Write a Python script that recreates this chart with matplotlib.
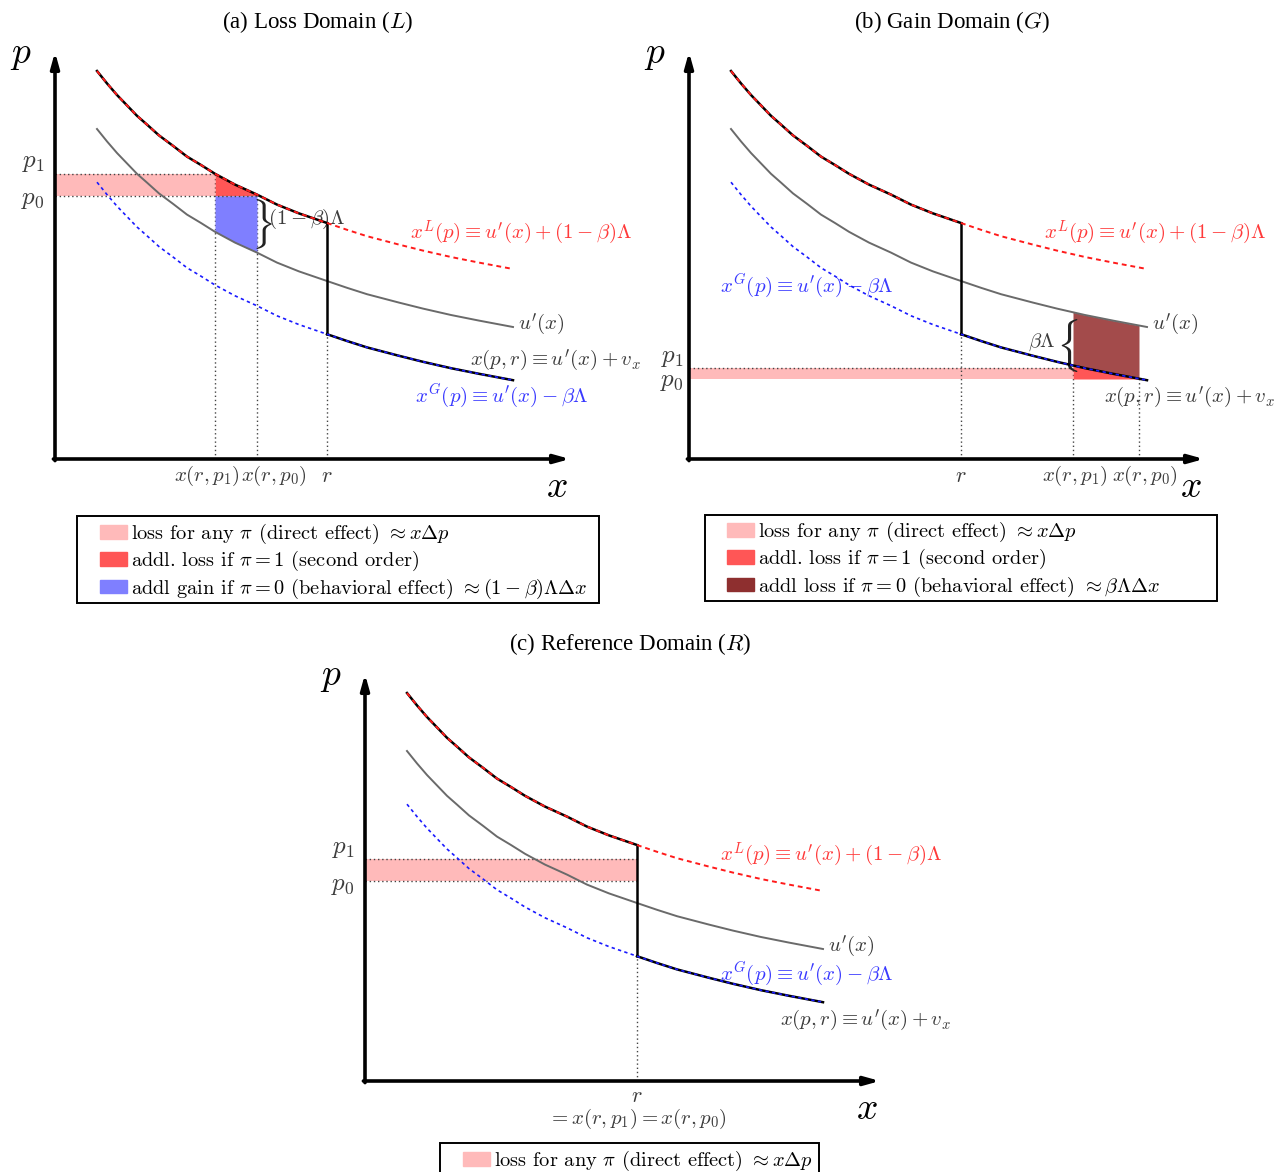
import numpy as np
import matplotlib
matplotlib.use("Agg")
import matplotlib.pyplot as plt
from matplotlib.patches import Patch, Rectangle

plt.rcParams['mathtext.fontset'] = 'cm'
plt.rcParams['font.family'] = 'serif'
plt.rcParams['font.serif'] = ['cmr10', 'DejaVu Serif']
plt.rcParams['axes.formatter.use_mathtext'] = True

# curves (same in all three panels)
ux = [1.05, 1.3, 1.55, 1.8, 2.05, 2.3, 2.6, 2.95, 3.3, 3.65, 4.0, 4.5, 5.05,
      5.55, 6.1, 6.8, 7.3, 7.8, 8.6, 9.2, 9.9, 10.6, 11.45]
u_prime = [8.25, 7.94, 7.65, 7.39, 7.13, 6.91, 6.64, 6.38, 6.11, 5.9, 5.68, 5.41, 5.16,
           4.91, 4.69, 4.45, 4.28, 4.12, 3.91, 3.76, 3.6, 3.46, 3.3]
x_loss = [9.7, 9.39, 9.1, 8.84, 8.58, 8.36, 8.09, 7.83, 7.56, 7.35, 7.13, 6.86, 6.61,
          6.36, 6.14, 5.9, 5.73, 5.57, 5.36, 5.21, 5.05, 4.91, 4.75]
x_gain = [6.92, 6.61, 6.32, 6.06, 5.8, 5.58, 5.31, 5.05, 4.78, 4.57, 4.35, 4.08, 3.83,
          3.58, 3.36, 3.12, 2.95, 2.79, 2.58, 2.43, 2.27, 2.13, 1.97]
r_ref = 6.8

# panel prices / quantities
a_p1, a_p0, a_xp1, a_xp0 = 7.13, 6.58, 4.0, 5.05
b_p1, b_p0, b_xp1, b_xp0 = 2.28, 2.0, 9.6, 11.25
c_p1, c_p0 = 5.55, 5.0

PINK = '#ffbaba'
RED = '#ff5656'
BLUE = '#7f7fff'
BROWN = '#a34b4b'
BROWN_LEG = '#8e2f2f'
TXT_RED = '#ff3a3a'
TXT_BLUE = '#3a3aff'
TXT_GRAY = '#3c3c3c'
FS = 15

W, H = 1276, 1172
fig = plt.figure(figsize=(W / 100, H / 100), dpi=100)

UNIT = 40.0
XL = (-1.5, 14.0)
YL = (-1.5, 10.8)


def make_ax(ox, oy):
    left = (ox + XL[0] * UNIT) / W
    bottom = (H - oy + YL[0] * UNIT) / H
    ax = fig.add_axes([left, bottom, (XL[1] - XL[0]) * UNIT / W, (YL[1] - YL[0]) * UNIT / H])
    ax.set_xlim(*XL)
    ax.set_ylim(*YL)
    ax.axis('off')
    # axes with arrows
    ax.annotate('', xy=(12.875, 0), xytext=(-0.04, 0),
                arrowprops=dict(arrowstyle='-|>,head_length=0.9,head_width=0.25', lw=2.6, color='k',
                                shrinkA=0, shrinkB=0))
    ax.annotate('', xy=(0, 10.175), xytext=(0, -0.04),
                arrowprops=dict(arrowstyle='-|>,head_length=0.9,head_width=0.25', lw=2.6, color='k',
                                shrinkA=0, shrinkB=0))
    ax.text(-0.85, 10.1, '$p$', fontsize=27, ha='center', va='center')
    ax.text(12.55, -0.7, '$x$', fontsize=27, ha='center', va='center')
    return ax


def curves(ax):
    xs = np.array(ux)
    ax.plot(xs, u_prime, color='#6a6a6a', lw=1.4, zorder=3)
    m1 = xs <= r_ref
    m2 = xs >= r_ref
    gl = np.interp(r_ref, ux, x_gain)
    ll = np.interp(r_ref, ux, x_loss)
    ax.plot(xs[m1], np.array(x_loss)[m1], color='k', lw=1.8, zorder=5)
    ax.plot([r_ref, r_ref], [gl, ll], color='k', lw=1.8, zorder=5)
    ax.plot(xs[m2], np.array(x_gain)[m2], color='k', lw=1.8, zorder=5)
    ax.plot(xs, x_loss, color='#ff1a1a', lw=1.4, ls=(0, (2.5, 2)), zorder=6)
    ax.plot(xs, x_gain, color='#1a1aff', lw=1.2, ls=(0, (2, 2)), zorder=6)
    return gl, ll


def seg(x0, x1):
    xs = np.array(ux)
    return np.concatenate([[x0], xs[(xs > x0) & (xs < x1)], [x1]])


def curve_labels(ax, xg_pos):
    ax.text(8.875, 5.65, r"$x^L(p) \equiv u'(x) + (1-\beta)\Lambda$", color=TXT_RED, fontsize=FS, va='center')
    ax.text(11.575, 3.375, r"$u'(x)$", color=TXT_GRAY, fontsize=FS, va='center')
    ax.text(xg_pos[0], xg_pos[1], r"$x^G(p) \equiv u'(x) - \beta\Lambda$", color=TXT_BLUE, fontsize=FS, va='center')


dot = dict(color='#444444', lw=1.0, ls=(0, (1, 2)))

# ---------------- (a) loss domain
ax = make_ax(55, 459)
gl, ll = curves(ax)
ax.fill_between([0, a_xp1], a_p0, a_p1, color=PINK, lw=0, zorder=1)
sx = seg(a_xp1, a_xp0)
ax.fill_between(sx, a_p0, np.minimum(np.interp(sx, ux, x_loss), a_p1), color=RED, lw=0, zorder=2)
ax.fill_between(sx, np.interp(sx, ux, u_prime), a_p0, color=BLUE, lw=0, zorder=2)
ax.plot([0, a_xp1], [a_p1, a_p1], zorder=2.5, **dot)
ax.plot([0, a_xp0], [a_p0, a_p0], zorder=2.5, **dot)
ax.plot([a_xp1, a_xp1], [0, a_p1], zorder=1.5, **dot)
ax.plot([a_xp0, a_xp0], [0, a_p0], zorder=1.5, **dot)
ax.plot([r_ref, r_ref], [0, gl], zorder=1.5, **dot)
ax.text(5.18, 5.88, r'$\}$', fontsize=30, ha='center', va='center', color='#222222')
ax.text(5.33, 6.0, r'$(1-\beta)\Lambda$', fontsize=FS, ha='left', va='center', color=TXT_GRAY, zorder=4.5)
curve_labels(ax, (9.0, 1.6))
ax.text(10.375, 2.475, r"$x(p,r) \equiv u'(x) + v_x$", color=TXT_GRAY, fontsize=FS, va='center')
ax.text(-0.55, 7.4, '$p_1$', fontsize=18, ha='center', va='center', color=TXT_GRAY)
ax.text(-0.55, 6.475, '$p_0$', fontsize=18, ha='center', va='center', color=TXT_GRAY)
ax.text(3.8, -0.425, '$x(r,p_1)$', fontsize=FS, ha='center', va='center', color=TXT_GRAY)
ax.text(5.475, -0.425, '$x(r,p_0)$', fontsize=FS, ha='center', va='center', color=TXT_GRAY)
ax.text(r_ref, -0.425, '$r$', fontsize=16, ha='center', va='center', color=TXT_GRAY)

# ---------------- (b) gain domain
ax = make_ax(689, 459)
gl, ll = curves(ax)
ax.fill_between([0, b_xp1], b_p0, b_p1, color=PINK, lw=0, zorder=1)
sx = seg(b_xp1, b_xp0)
ax.fill_between(sx, np.interp(sx, ux, x_gain), np.interp(sx, ux, u_prime), color=BROWN, lw=0, zorder=2)
ax.fill_between(sx, b_p0, np.interp(sx, ux, x_gain), color=RED, lw=0, zorder=2)
ax.plot([0, b_xp1], [b_p1, b_p1], zorder=2.5, **dot)
ax.plot([r_ref, r_ref], [0, gl], zorder=1.5, **dot)
ax.plot([b_xp1, b_xp1], [0, b_p1], zorder=1.5, **dot)
ax.plot([b_xp0, b_xp0], [0, b_p0], zorder=1.5, **dot)
ax.text(9.45, 2.85, r'$\{$', fontsize=31, ha='center', va='center', color='#222222')
ax.text(9.17, 2.92, r'$\beta\Lambda$', fontsize=FS, ha='right', va='center', color=TXT_GRAY)
curve_labels(ax, (0.775, 4.35))
ax.text(10.375, 1.55, r"$x(p,r) \equiv u'(x) + v_x$", color=TXT_GRAY, fontsize=FS, va='center')
ax.text(-0.425, 2.525, '$p_1$', fontsize=18, ha='center', va='center', color=TXT_GRAY)
ax.text(-0.425, 1.925, '$p_0$', fontsize=18, ha='center', va='center', color=TXT_GRAY)
ax.text(r_ref, -0.425, '$r$', fontsize=16, ha='center', va='center', color=TXT_GRAY)
ax.text(9.65, -0.425, '$x(r,p_1)$', fontsize=FS, ha='center', va='center', color=TXT_GRAY)
ax.text(11.4, -0.425, '$x(r,p_0)$', fontsize=FS, ha='center', va='center', color=TXT_GRAY)

# ---------------- (c) reference domain
ax = make_ax(365, 1081)
gl, ll = curves(ax)
ax.fill_between([0, r_ref], c_p0, c_p1, color=PINK, lw=0, zorder=1)
ax.plot([0, r_ref], [c_p1, c_p1], zorder=2.5, **dot)
ax.plot([0, r_ref], [c_p0, c_p0], zorder=2.5, **dot)
ax.plot([r_ref, r_ref], [0, gl], zorder=1.5, **dot)
curve_labels(ax, (8.875, 2.7))
ax.text(10.375, 1.525, r"$x(p,r) \equiv u'(x) + v_x$", color=TXT_GRAY, fontsize=FS, va='center')
ax.text(-0.55, 5.8, '$p_1$', fontsize=18, ha='center', va='center', color=TXT_GRAY)
ax.text(-0.55, 4.875, '$p_0$', fontsize=18, ha='center', va='center', color=TXT_GRAY)
ax.text(r_ref, -0.39, '$r$', fontsize=16, ha='center', va='center', color=TXT_GRAY)
ax.text(r_ref, -0.95, '$= x(r,p_1) = x(r,p_0)$', fontsize=FS, ha='center', va='center', color=TXT_GRAY)

# ---------------- titles
tfont = dict(family='Liberation Serif', fontsize=16.5, ha='center', va='center')
fig.text(318 / W, 1 - 22 / H, '(a) Loss Domain ($L$)', **tfont)
fig.text(952 / W, 1 - 22 / H, '(b) Gain Domain ($G$)', **tfont)
fig.text(630 / W, 1 - 644 / H, '(c) Reference Domain ($R$)', **tfont)

# ---------------- legends
lab_pink = r'loss for any $\pi$ (direct effect) $\approx x\Delta p$'
lab_red = r'addl. loss if $\pi = 1$ (second order)'


def legend(handles, labels, box, sw_x, top):
    x0, y0, x1, y1 = box
    fig.add_artist(Rectangle((x0 / W, 1 - y1 / H), (x1 - x0) / W, (y1 - y0) / H,
                             transform=fig.transFigure, fill=False, ec='k', lw=1.4))
    fig.legend(handles, labels, loc='upper left', bbox_to_anchor=(sw_x / W, 1 - top / H),
               frameon=False, fontsize=14.7, handlelength=1.32, handleheight=0.65,
               handletextpad=0.2, labelspacing=0.15, borderpad=0, borderaxespad=0)


legend([Patch(color=PINK), Patch(color=RED), Patch(color=BLUE)],
       [lab_pink, lab_red, r'addl gain if $\pi = 0$ (behavioral effect) $\approx (1-\beta)\Lambda\Delta x$'],
       (77, 516, 599, 603), 100, 522)
legend([Patch(color=PINK), Patch(color=RED), Patch(color=BROWN_LEG)],
       [lab_pink, lab_red, r'addl loss if $\pi = 0$ (behavioral effect) $\approx \beta\Lambda\Delta x$'],
       (705, 515, 1217, 601), 727, 520)
legend([Patch(color=PINK)], [lab_pink], (440, 1143, 819, 1190), 463, 1149)

fig.savefig('out.png', dpi=100)
